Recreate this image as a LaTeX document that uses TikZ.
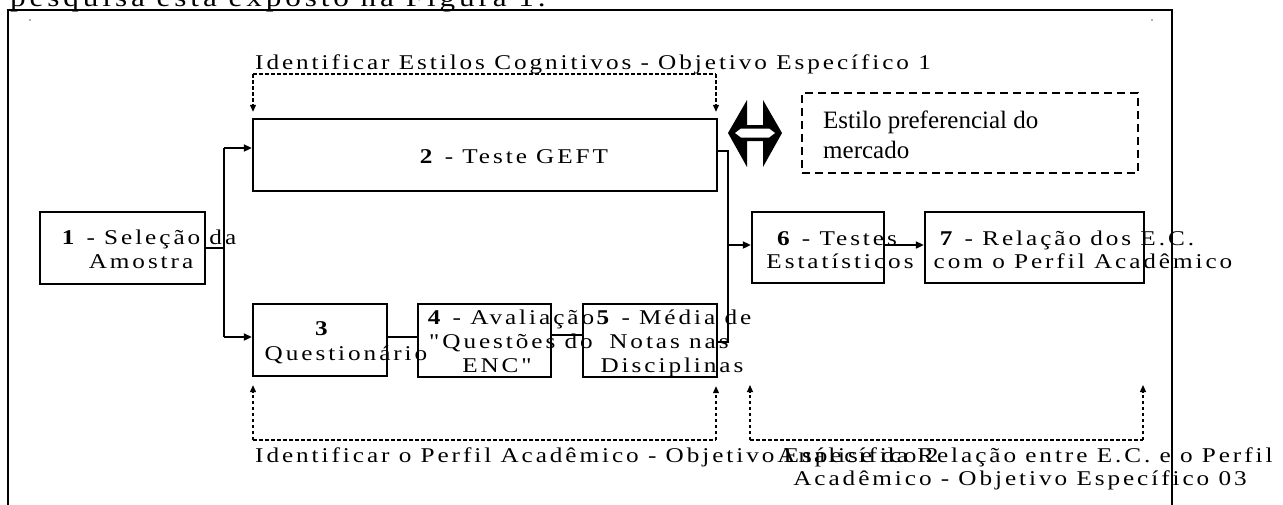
\documentclass[tikz,border=0pt]{standalone}
\usepackage{fontspec}
\setmainfont{Liberation Serif}
\newfontfamily\spaced[LetterSpace=14,FakeStretch=1.2]{Liberation Serif}
\newfontfamily\topspaced[LetterSpace=15,FakeStretch=1.2]{Liberation Serif}
\usetikzlibrary{arrows.meta}
\tikzset{
  box/.style={draw, line width=2.4pt, inner sep=0pt, rectangle},
  txt/.style={inner sep=0pt, anchor=base, font=\fontsize{21}{25}\spaced},
  ltxt/.style={inner sep=0pt, anchor=base west, font=\fontsize{21}{25}\spaced},
  ptxt/.style={inner sep=0pt, anchor=base west, font=\fontsize{25}{30}\selectfont},
  conn/.style={line width=2pt},
  arr/.style={line width=2pt, -{Triangle[length=8pt,width=7pt]}},
  dline/.style={line width=1.2pt, dash pattern=on 3.5pt off 2.5pt},
  darr/.style={line width=1.2pt, dash pattern=on 3.5pt off 2.5pt, -{Triangle[length=7pt,width=6pt]}},
}
\begin{document}
\begin{tikzpicture}[x=1pt,y=-1pt]
\useasboundingbox (0,0) rectangle (1283,504);
\clip (0,0) rectangle (1283,504);
\fill[white] (0,0) rectangle (1283,504);
% clipped text above frame
\node[inner sep=0pt, anchor=base west, font=\fontsize{26}{30}\topspaced] (toptext) at (10,6) {pesquisa está exposto na Figura 1.};
% frame
\draw[line width=2pt] (8,530) -- (8,10) -- (1172,10) -- (1172,530);
\fill[gray!60] (29,19) rectangle (31,21);
\fill[gray!60] (1151,19) rectangle (1153,21);
% boxes
\node[box, minimum width=165pt, minimum height=72pt] (b1) at (122.5,248) {};
\node[box, minimum width=464pt, minimum height=72pt] (b2) at (485,155) {};
\node[box, minimum width=134pt, minimum height=72pt] (b3) at (320,340) {};
\node[box, minimum width=133pt, minimum height=73pt] (b4) at (484.5,340.5) {};
\node[box, minimum width=134pt, minimum height=73pt] (b5) at (650,340.5) {};
\node[box, minimum width=132pt, minimum height=71pt] (b6) at (818,247.5) {};
\node[box, minimum width=219pt, minimum height=71pt] (b7) at (1034.5,247.5) {};
\node[draw, line width=2pt, dash pattern=on 8pt off 5pt, minimum width=336pt, minimum height=80pt, inner sep=0pt] (pref) at (970,133) {};
% box texts
\node[txt] (t1a) at (149,244) {\textbf{1} - Seleção da};
\node[txt] (t1b) at (141,268) {Amostra};
\node[txt] (t2) at (514,163) {\textbf{2} - Teste GEFT};
\node[txt] (t3a) at (323,335) {\textbf{3}};
\node[txt] (t3b) at (346,360) {Questionário};
\node[txt] (t4a) at (511,324) {\textbf{4} - Avaliação};
\node[txt] (t4b) at (511,348) {"Questões do};
\node[txt] (t4c) at (497,372) {ENC"};
\node[txt] (t5a) at (674,324) {\textbf{5} - Média de};
\node[txt] (t5b) at (669,348) {Notas nas};
\node[txt] (t5c) at (672,372) {Disciplinas};
\node[txt] (t6a) at (837,245) {\textbf{6} - Testes};
\node[txt] (t6b) at (840,268) {Estatísticos};
\node[txt] (t7a) at (1067,245) {\textbf{7} - Relação dos E.C.};
\node[txt] (t7b) at (1083,268) {com o Perfil Acadêmico};
\node[ptxt] (p1) at (823,128) {Estilo preferencial do};
\node[ptxt] (p2) at (823,158) {mercado};
% connectors
\coordinate (s1) at (224,148);
\coordinate (s2) at (224,337);
\draw[conn] (b1.east) -- (b1.east -| s1);
\draw[conn] (s1) -- (s2);
\draw[arr] (s1) -- (s1 -| b2.west);
\draw[arr] (s2) -- (s2 -| b3.west);
\coordinate (m1) at (728,151);
\coordinate (m2) at (728,342);
\coordinate (m3) at (728,245);
\draw[conn] (m1 -| b2.east) -- (m1) -- (m2) -- (m2 -| b5.east);
\draw[arr] (m3) -- (m3 -| b6.west);
\coordinate (q1) at (400,337);
\coordinate (q2) at (560,335);
\draw[conn] (q1 -| b3.east) -- (q1 -| b4.west);
\draw[conn] (q2 -| b4.east) -- (q2 -| b5.west);
\coordinate (r1) at (900,245);
\draw[arr] (r1 -| b6.east) -- (r1 -| b7.west);
% double arrow
\fill[black] (728,133) -- (747,100) -- (747,125) -- (763,125) -- (763,100) -- (782,133) -- (763,167) -- (763,141) -- (747,141) -- (747,167) -- cycle;
\fill[white] (735,133) -- (741,128.5) -- (769,128.5) -- (775,133) -- (769,137.5) -- (741,137.5) -- cycle;
% top dashed bracket
\coordinate (ta) at (253,74);
\coordinate (tb) at (716,74);
\draw[dline] (ta) -- (tb);
\draw[darr, shorten >=6pt] (ta) -- (ta |- b2.north);
\draw[darr, shorten >=6pt] (tb) -- (tb |- b2.north);
\node[ltxt] (lab1) at (255,69) {Identificar Estilos Cognitivos - Objetivo Específico 1};
% bottom left dashed bracket
\coordinate (ba) at (253,440);
\coordinate (bb) at (716,440);
\draw[dline] (ba) -- (bb);
\draw[darr, shorten >=8pt] (ba) -- (ba |- b3.south);
\draw[darr, shorten >=8pt] (bb) -- (bb |- b5.south);
\node[ltxt] (lab2) at (255,462) {Identificar o Perfil Acadêmico - Objetivo Específico 2};
% bottom right dashed bracket
\coordinate (ca) at (750,440);
\coordinate (cb) at (1143,440);
\coordinate (cat) at (750,385);
\coordinate (cbt) at (1143,385);
\draw[dline] (ca) -- (cb);
\draw[darr] (ca) -- (cat);
\draw[darr] (cb) -- (cbt);
\node[txt] (lab3a) at (1025,462) {Análise da Relação entre E.C. e o Perfil};
\node[txt] (lab3b) at (1020,485) {Acadêmico - Objetivo Específico 03};
\end{tikzpicture}
\end{document}
